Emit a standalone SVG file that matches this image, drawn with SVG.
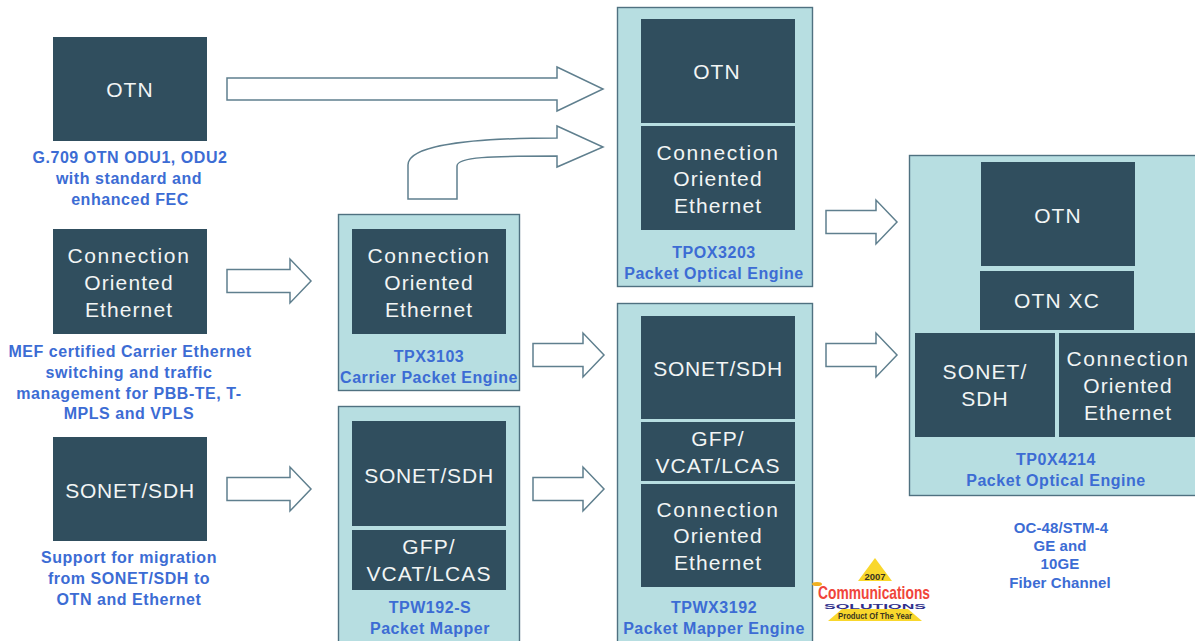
<svg xmlns="http://www.w3.org/2000/svg" width="1195" height="641" viewBox="0 0 1195 641">
<style>
.panel{fill:#b7dee1;stroke:#4f7180;stroke-width:1.4}
.box{fill:#304e5e}
.bt{fill:#f2f5f5;font:21px "Liberation Sans",Arial,sans-serif;text-anchor:middle;letter-spacing:1.1px}
.c{letter-spacing:1.7px}
.s{letter-spacing:.8px}
.cap{fill:#3c6cd4;font:bold 16px "Liberation Sans",Arial,sans-serif;text-anchor:middle;letter-spacing:.55px}
.if{font-size:15px;letter-spacing:.1px}
.arr{fill:#fff;stroke:#5f7f8e;stroke-width:1.5}
.lg{font-family:"Liberation Sans",Arial,sans-serif;font-weight:bold;text-anchor:middle}
</style>
<defs>
<path id="sm" d="M0 -11.500H63V-22L84 0L63 22V11.500H0Z"/>
<path id="sp" d="M0 -11.500H50V-22L71 0L50 22V11.500H0Z"/>
</defs>
<rect width="1195" height="641" fill="#fff"/>
<g id="connectors" class="arr">
<path d="M227 78H557V67L603 89L557 111V100H227Z"/>
<path d="M408 199V165C408 148 455 138 557 138V126L603 147L557 167V156C490 156 457 157 457 166V199Z"/>
<use href="#sm" x="227" y="281"/>
<use href="#sm" x="227" y="489"/>
<use href="#sp" x="533" y="355"/>
<use href="#sp" x="533" y="489"/>
<use href="#sp" x="826" y="222"/>
<use href="#sp" x="826" y="355"/>
</g>
<g id="src-otn"><rect class="box" x="53" y="37" width="154" height="104"/><text class="bt" x="130" y="97">OTN</text>
<text class="cap"><tspan x="130" y="163">G.709 OTN ODU1, ODU2</tspan><tspan x="129" y="184">with standard and</tspan><tspan x="130" y="205">enhanced FEC</tspan></text></g>
<g id="src-coe"><rect class="box" x="53" y="229" width="154" height="105"/><text class="bt"><tspan class="c" x="129" y="263">Connection</tspan><tspan x="129" y="290">Oriented</tspan><tspan x="129" y="317">Ethernet</tspan></text>
<text class="cap"><tspan x="130" y="357">MEF certified Carrier Ethernet</tspan><tspan x="129" y="378">switching and traffic</tspan><tspan x="129" y="399">management for PBB-TE, T-</tspan><tspan x="129" y="419">MPLS and VPLS</tspan></text></g>
<g id="src-sonet"><rect class="box" x="53" y="437" width="154" height="104"/><text class="bt s" x="130" y="498">SONET/SDH</text>
<text class="cap"><tspan x="129" y="563">Support for migration</tspan><tspan x="129" y="584">from SONET/SDH to</tspan><tspan x="129" y="605">OTN and Ethernet</tspan></text></g>
<g id="tpx3103"><rect class="panel" x="338.500" y="214.500" width="181" height="176"/><rect class="box" x="352" y="229" width="154" height="105"/><text class="bt"><tspan class="c" x="429" y="263">Connection</tspan><tspan x="429" y="290">Oriented</tspan><tspan x="429" y="317">Ethernet</tspan></text>
<text class="cap"><tspan x="429" y="362">TPX3103</tspan><tspan x="429" y="383">Carrier Packet Engine</tspan></text></g>
<g id="tpw192"><rect class="panel" x="338.500" y="406.500" width="181" height="240"/><rect class="box" x="352" y="421" width="154" height="105"/><text class="bt s" x="429" y="483">SONET/SDH</text><rect class="box" x="352" y="530" width="154" height="60"/><text class="bt"><tspan x="429" y="554">GFP/</tspan><tspan x="429" y="581">VCAT/LCAS</tspan></text>
<text class="cap"><tspan x="430" y="613">TPW192-S</tspan><tspan x="430" y="634">Packet Mapper</tspan></text></g>
<g id="tpox3203"><rect class="panel" x="617.500" y="7.500" width="195" height="279"/><rect class="box" x="641" y="19" width="154" height="104"/><text class="bt" x="717" y="79">OTN</text><rect class="box" x="641" y="126" width="154" height="104"/><text class="bt"><tspan class="c" x="718" y="160">Connection</tspan><tspan x="718" y="186">Oriented</tspan><tspan x="718" y="213">Ethernet</tspan></text>
<text class="cap"><tspan x="714" y="258">TPOX3203</tspan><tspan x="714" y="279">Packet Optical Engine</tspan></text></g>
<g id="tpwx3192"><rect class="panel" x="617.500" y="303.500" width="195" height="343"/><rect class="box" x="641" y="316" width="154" height="103"/><text class="bt s" x="718" y="376">SONET/SDH</text><rect class="box" x="641" y="422" width="154" height="59"/><text class="bt"><tspan x="718" y="446">GFP/</tspan><tspan x="718" y="473">VCAT/LCAS</tspan></text><rect class="box" x="641" y="484" width="154" height="103"/><text class="bt"><tspan class="c" x="718" y="517">Connection</tspan><tspan x="718" y="543">Oriented</tspan><tspan x="718" y="570">Ethernet</tspan></text>
<text class="cap"><tspan x="714" y="613">TPWX3192</tspan><tspan x="714" y="634">Packet Mapper Engine</tspan></text></g>
<g id="tp0x4214"><rect class="panel" x="909.500" y="155.500" width="290" height="340"/><rect class="box" x="981" y="162" width="154" height="104"/><text class="bt" x="1058" y="223">OTN</text><rect class="box" x="980" y="271" width="154" height="59"/><text class="bt" x="1057" y="308">OTN XC</text><rect class="box" x="915" y="333" width="140" height="104"/><text class="bt"><tspan x="985" y="379">SONET/</tspan><tspan x="985" y="406">SDH</tspan></text><rect class="box" x="1059" y="333" width="136" height="104"/><text class="bt"><tspan class="c" x="1128" y="366">Connection</tspan><tspan x="1128" y="393">Oriented</tspan><tspan x="1128" y="420">Ethernet</tspan></text>
<text class="cap"><tspan x="1056" y="465">TP0X4214</tspan><tspan x="1056" y="486">Packet Optical Engine</tspan></text></g>
<g id="interfaces"><text class="cap if"><tspan x="1061" y="533">OC-48/STM-4</tspan><tspan x="1060" y="551">GE and</tspan><tspan x="1060" y="569">10GE</tspan><tspan x="1060" y="588">Fiber Channel</tspan></text></g>
<g id="award">
<path d="M875 558L858 581H892Z" fill="#f9d72c"/>
<path d="M828 621L842 609H908L922 621Z" fill="#f9d72c"/>
<ellipse cx="817" cy="584" rx="5" ry="2" fill="#f0b020"/>
<text class="lg" x="875" y="580" font-size="9.500" fill="#3a3520">2007</text>
<text class="lg" x="874" y="598.500" font-size="19" textLength="112" lengthAdjust="spacingAndGlyphs" fill="#f0453a">Communications</text>
<text class="lg" x="875" y="609" font-size="7" textLength="102" lengthAdjust="spacingAndGlyphs" fill="#30308c">SOLUTIONS</text>
<text class="lg" x="875" y="618.500" font-size="8.500" textLength="74" lengthAdjust="spacingAndGlyphs" fill="#3a3520">Product Of The Year</text>
</g>
</svg>
